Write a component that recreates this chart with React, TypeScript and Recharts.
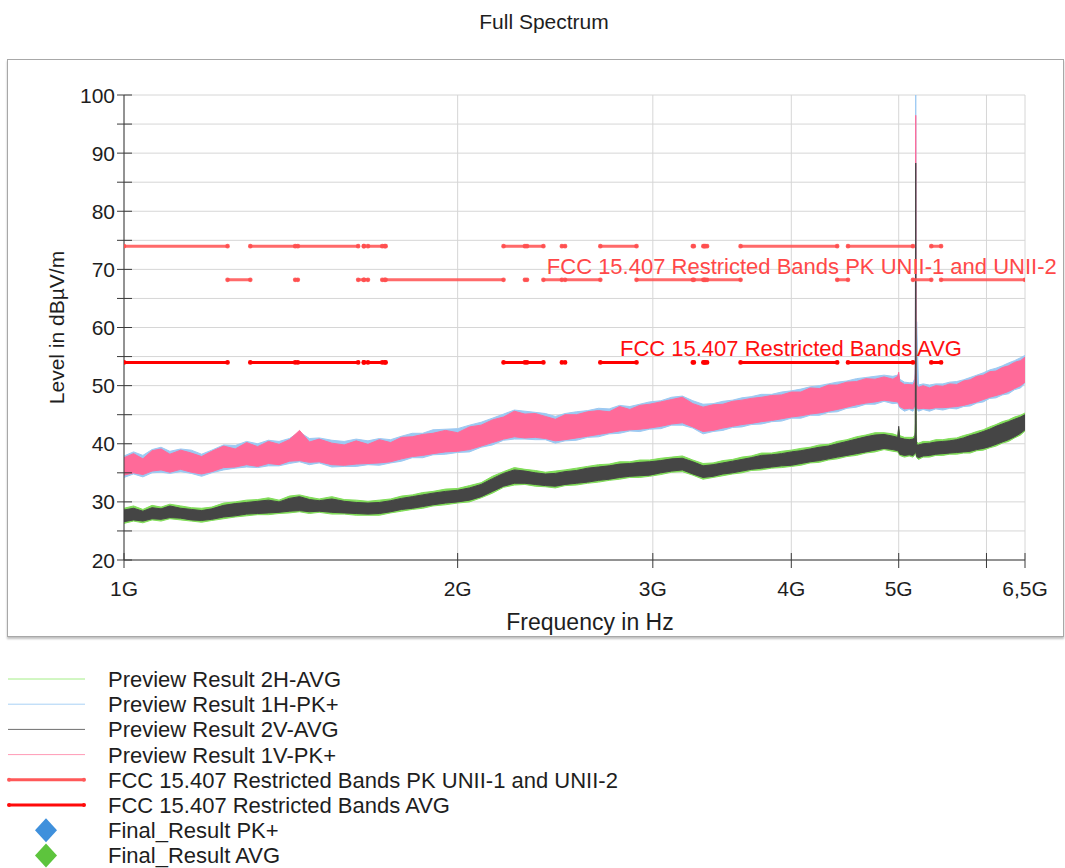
import React from 'react';
import { ComposedChart, Area, Line, XAxis, YAxis, CartesianGrid, ReferenceDot } from 'recharts';

const FONT = '"Liberation Sans", Arial, Helvetica, sans-serif';

// ---------- sweep frequencies (MHz) ----------
const freqMHz = [
  1000, 1020, 1040, 1060, 1080, 1100, 1125, 1150, 1175, 1200,
  1230, 1260, 1290, 1320, 1350, 1380, 1410, 1440, 1470, 1500,
  1540, 1580, 1620, 1660, 1700, 1740, 1780, 1820, 1860, 1900,
  1950, 2000, 2050, 2100, 2150, 2200, 2250, 2300, 2350, 2400,
  2450, 2500, 2560, 2620, 2680, 2740, 2800, 2860, 2920, 2980,
  3050, 3120, 3190, 3260, 3330, 3400, 3470, 3540, 3610, 3680,
  3760, 3840, 3920, 4000, 4080, 4160, 4240, 4320, 4400, 4490,
  4580, 4670, 4760, 4850, 4940, 4990, 5000, 5010, 5060, 5110,
  5150, 5170, 5175, 5180, 5185, 5190, 5210, 5260, 5330, 5400,
  5480, 5560, 5640, 5720, 5800, 5880, 5960, 6040, 6120, 6200,
  6280, 6360, 6440, 6500,
];

// ---------- Preview Result 1V-PK+ (pink) envelope ----------
const pk1VHi = [
  37.6, 38.3, 37.4, 38.8, 39.1, 38.2, 38.9, 38.4, 37.8, 38.7,
  39.6, 39.1, 40.2, 39.5, 40.4, 39.9, 40.7, 42.3, 40.3, 40.8,
  40.1, 39.8, 40.5, 39.9, 40.7, 40.2, 41.1, 41.2, 41.6, 41.8,
  42.3, 41.9, 42.9, 43.2, 44.1, 44.6, 45.6, 45.1, 45.2, 44.7,
  44.2, 45.0, 45.0, 45.5, 45.7, 45.5, 46.4, 45.9, 46.6, 46.8,
  47.2, 47.6, 48.0, 46.9, 46.3, 46.7, 46.8, 47.3, 47.5, 47.8,
  48.0, 48.3, 48.4, 48.9, 48.9, 49.6, 49.5, 50.1, 50.1, 50.6,
  50.7, 51.2, 51.1, 51.5, 51.1, 51.6, 52.3, 50.7, 50.2, 50.2,
  50.1, 50.7, 52.0, 96.5, 52.4, 50.1, 49.7, 50.0, 49.6, 50.0,
  49.9, 50.3, 50.2, 50.8, 51.0, 51.6, 51.8, 52.4, 52.5, 53.1,
  53.4, 54.0, 54.3, 54.9,
];
const pk1VLo = [
  34.6, 35.0, 34.7, 35.3, 35.5, 35.1, 35.6, 35.1, 34.8, 35.2,
  35.9, 36.0, 36.4, 36.1, 36.6, 36.4, 37.0, 37.1, 36.8, 36.9,
  36.4, 36.3, 36.5, 36.6, 36.7, 36.9, 37.4, 37.8, 38.0, 38.3,
  38.6, 38.7, 39.0, 39.6, 40.2, 40.8, 41.2, 41.0, 41.1, 40.9,
  40.5, 40.7, 41.0, 41.3, 41.6, 41.9, 42.2, 42.4, 42.5, 42.7,
  43.0, 43.4, 43.6, 42.9, 42.1, 42.3, 42.7, 43.0, 43.3, 43.5,
  43.8, 44.0, 44.3, 44.6, 44.8, 45.1, 45.3, 45.6, 45.9, 46.3,
  46.7, 47.0, 47.2, 47.5, 47.3, 47.2, 46.9, 46.4, 46.0, 46.1,
  46.0, 46.5, 46.8, 47.0, 46.6, 46.2, 46.0, 46.1, 46.0, 46.2,
  46.2, 46.3, 46.4, 46.6, 46.9, 47.2, 47.6, 48.0, 48.3, 48.6,
  49.0, 49.5, 50.0, 50.6,
];

// ---------- Preview Result 1H-PK+ (light blue) envelope ----------
const pk1HHi = [
  37.9, 38.6, 38.0, 39.0, 39.4, 38.7, 39.1, 38.9, 38.2, 38.9,
  39.8, 39.7, 40.4, 40.0, 40.6, 40.4, 40.9, 42.0, 40.9, 41.0,
  40.6, 40.4, 40.8, 40.5, 40.9, 40.7, 41.3, 41.8, 41.8, 42.4,
  42.5, 42.6, 43.2, 43.7, 44.4, 45.1, 45.8, 45.6, 45.4, 45.2,
  44.7, 45.2, 45.5, 45.7, 46.1, 46.0, 46.6, 46.4, 46.8, 47.2,
  47.4, 48.0, 48.2, 47.4, 46.8, 46.9, 47.3, 47.5, 47.9, 48.1,
  48.5, 48.5, 48.9, 49.1, 49.4, 49.8, 50.0, 50.3, 50.6, 50.8,
  51.2, 51.4, 51.6, 51.8, 51.6, 51.8, 52.0, 51.1, 50.6, 50.5,
  50.5, 51.2, 53.0, 100.0, 54.0, 61.0, 50.1, 50.3, 50.1, 50.3,
  50.3, 50.6, 50.7, 51.0, 51.4, 51.8, 52.2, 52.7, 53.0, 53.4,
  53.9, 54.3, 54.8, 55.2,
];
const pk1HLo = [
  34.2, 34.8, 34.3, 35.0, 35.1, 34.9, 35.2, 34.9, 34.4, 35.0,
  35.5, 35.8, 36.0, 35.9, 36.2, 36.2, 36.6, 36.9, 36.4, 36.7,
  36.0, 36.1, 36.1, 36.4, 36.3, 36.7, 37.0, 37.6, 37.6, 38.1,
  38.2, 38.5, 38.6, 39.4, 39.8, 40.6, 40.8, 40.8, 40.7, 40.7,
  40.1, 40.5, 40.6, 41.1, 41.2, 41.7, 41.8, 42.2, 42.1, 42.5,
  42.6, 43.2, 43.2, 42.7, 41.7, 42.1, 42.3, 42.8, 42.9, 43.3,
  43.4, 43.8, 43.9, 44.4, 44.4, 44.9, 44.9, 45.4, 45.5, 46.1,
  46.3, 46.8, 46.8, 47.3, 46.9, 47.0, 46.5, 46.2, 45.6, 45.9,
  45.6, 46.3, 46.4, 46.8, 46.2, 46.0, 45.6, 45.9, 45.6, 46.0,
  45.8, 46.1, 46.0, 46.4, 46.5, 47.0, 47.2, 47.8, 47.9, 48.4,
  48.6, 49.3, 49.6, 50.4,
];

// ---------- Preview Result 2V-AVG (dark grey) envelope ----------
const avg2VHi = [
  28.6, 28.9, 28.4, 29.0, 28.8, 29.3, 28.9, 28.7, 28.5, 28.8,
  29.4, 29.7, 29.9, 30.1, 30.3, 30.0, 30.6, 30.9, 30.4, 30.2,
  30.5, 30.1, 29.9, 29.8, 29.9, 30.2, 30.6, 30.9, 31.2, 31.5,
  31.8, 32.0, 32.4, 33.0, 34.0, 34.9, 35.5, 35.3, 35.0, 34.8,
  34.9, 35.2, 35.4, 35.8, 36.0, 36.2, 36.5, 36.6, 36.8, 36.9,
  37.1, 37.4, 37.5, 36.9, 36.2, 36.4, 36.7, 37.0, 37.3, 37.6,
  38.0, 38.1, 38.3, 38.6, 38.8, 39.1, 39.4, 39.6, 40.0, 40.4,
  40.8, 41.2, 41.5, 41.6, 41.3, 41.1, 43.0, 41.0, 40.8, 40.7,
  40.8, 41.0, 42.0, 88.3, 41.5, 39.8, 39.8, 40.0, 40.1, 40.3,
  40.4, 40.5, 40.7, 41.0, 41.4, 41.7, 42.1, 42.5, 43.0, 43.4,
  43.8, 44.2, 44.6, 45.0,
];
const avg2VLo = [
  26.6, 26.9, 26.7, 27.1, 27.0, 27.3, 27.2, 26.9, 26.8, 27.0,
  27.4, 27.6, 27.9, 28.0, 28.1, 28.2, 28.4, 28.5, 28.3, 28.4,
  28.2, 28.1, 28.0, 27.9, 28.0, 28.3, 28.7, 28.9, 29.2, 29.5,
  29.8, 30.0, 30.3, 30.9, 31.8, 32.7, 33.2, 33.2, 33.0, 32.8,
  32.7, 33.0, 33.2, 33.4, 33.7, 33.9, 34.2, 34.4, 34.5, 34.6,
  35.0, 35.3, 35.5, 34.8, 34.2, 34.4, 34.8, 35.0, 35.3, 35.6,
  35.8, 36.0, 36.2, 36.3, 36.6, 36.9, 37.1, 37.4, 37.7, 38.0,
  38.3, 38.6, 38.9, 39.2, 39.0, 38.8, 38.6, 38.2, 38.0, 38.1,
  38.0, 38.3, 38.6, 38.5, 38.2, 37.8, 37.6, 37.9, 38.0, 38.2,
  38.3, 38.4, 38.5, 38.6, 38.7, 39.0, 39.2, 39.5, 39.9, 40.3,
  40.7, 41.2, 41.8, 42.4,
];

// ---------- Preview Result 2H-AVG (light green) envelope ----------
const avg2HHi = [
  28.9, 29.3, 28.7, 29.4, 29.1, 29.6, 29.3, 29.0, 28.9, 29.1,
  29.8, 30.0, 30.3, 30.4, 30.7, 30.3, 31.0, 31.2, 30.8, 30.5,
  30.9, 30.4, 30.3, 30.1, 30.3, 30.5, 31.0, 31.2, 31.6, 31.8,
  32.2, 32.3, 32.8, 33.3, 34.4, 35.2, 35.9, 35.6, 35.4, 35.1,
  35.3, 35.5, 35.8, 36.1, 36.4, 36.5, 36.9, 36.9, 37.2, 37.2,
  37.5, 37.7, 37.9, 37.2, 36.6, 36.7, 37.1, 37.3, 37.7, 37.9,
  38.4, 38.4, 38.7, 38.9, 39.2, 39.4, 39.8, 39.9, 40.4, 40.7,
  41.2, 41.5, 41.9, 41.9, 41.7, 41.4, 42.6, 41.4, 41.1, 41.1,
  41.1, 41.5, 43.5, 60.0, 44.0, 40.3, 40.1, 40.4, 40.4, 40.7,
  40.7, 40.9, 41.0, 41.4, 41.7, 42.1, 42.4, 42.9, 43.3, 43.8,
  44.1, 44.6, 44.9, 45.3,
];
const avg2HLo = [
  26.3, 26.7, 26.4, 26.9, 26.7, 27.1, 26.9, 26.7, 26.5, 26.8,
  27.1, 27.4, 27.6, 27.8, 27.8, 28.0, 28.1, 28.3, 28.0, 28.2,
  27.9, 27.9, 27.7, 27.7, 27.7, 28.1, 28.4, 28.7, 28.9, 29.3,
  29.5, 29.8, 30.0, 30.7, 31.5, 32.5, 32.9, 33.0, 32.7, 32.6,
  32.4, 32.8, 32.9, 33.2, 33.4, 33.7, 33.9, 34.2, 34.2, 34.4,
  34.7, 35.1, 35.2, 34.6, 33.9, 34.2, 34.5, 34.8, 35.0, 35.4,
  35.5, 35.8, 35.9, 36.1, 36.3, 36.7, 36.8, 37.2, 37.4, 37.8,
  38.0, 38.4, 38.6, 39.0, 38.7, 38.6, 38.3, 38.0, 37.7, 37.9,
  37.7, 38.1, 38.3, 38.3, 37.9, 37.6, 37.3, 37.7, 37.7, 38.0,
  38.0, 38.2, 38.2, 38.4, 38.4, 38.8, 38.9, 39.3, 39.6, 40.1,
  40.4, 41.0, 41.5, 42.2,
];

// ---------- limit lines ----------
const restrictedBandsMHz: [number, number][] = [
  [1000, 1240], [1300, 1427], [1435, 1626.5], [1645.5, 1646.5], [1660, 1710], [1718.8, 1722.2],
  [2200, 2300], [2310, 2390], [2483.5, 2500], [2690, 2900], [3260, 3267], [3332, 3339],
  [3345.8, 3358], [3600, 4400], [4500, 5150], [5350, 5460],
];
const otherBandsMHz: [number, number][] = [
  [1240, 1300], [1427, 1435], [1626.5, 1645.5], [1646.5, 1660], [1710, 1718.8], [1722.2, 2200],
  [2300, 2310], [2390, 2483.5], [2500, 2690], [2900, 3260], [3267, 3332], [3339, 3345.8],
  [3358, 3600], [4400, 4500], [5150, 5350], [5460, 6500],
];
const pkRestrictedLevel = 74;
const pkOtherLevel = 68.2;
const avgRestrictedLevel = 54;

const pkLabel = 'FCC 15.407 Restricted Bands PK UNII-1 and UNII-2';
const avgLabel = 'FCC 15.407 Restricted Bands AVG';
const pkLabelAt = { f: 2407, level: pkOtherLevel };
const avgLabelAt = { f: 2802, level: avgRestrictedLevel };

// ---------- axes ----------
const xTicks = [1000, 2000, 3000, 4000, 5000, 6000, 6500];
const xTickLabels: Record<number, string> = { 1000: '1G', 2000: '2G', 3000: '3G', 4000: '4G', 5000: '5G', 6000: '', 6500: '6,5G' };
const yTicks = [20, 25, 30, 35, 40, 45, 50, 55, 60, 65, 70, 75, 80, 85, 90, 95, 100];

const legendItems = [
  { name: 'Preview Result 2H-AVG', kind: 'line', color: '#a4ee86', w: 1 },
  { name: 'Preview Result 1H-PK+', kind: 'line', color: '#a9d1f5', w: 1 },
  { name: 'Preview Result 2V-AVG', kind: 'line', color: '#6e6e6e', w: 1 },
  { name: 'Preview Result 1V-PK+', kind: 'line', color: '#ff9ab6', w: 1 },
  { name: 'FCC 15.407 Restricted Bands PK UNII-1 and UNII-2', kind: 'limit', color: '#ff5858', w: 3 },
  { name: 'FCC 15.407 Restricted Bands AVG', kind: 'limit', color: '#ff0a0a', w: 3 },
  { name: 'Final_Result PK+', kind: 'diamond', color: '#3f90dc', w: 0 },
  { name: 'Final_Result AVG', kind: 'diamond', color: '#5dc43d', w: 0 },
];

const data = freqMHz.map((f, i) => ({
  f,
  h2avg: [avg2HLo[i], avg2HHi[i]],
  h1pk: [pk1HLo[i], pk1HHi[i]],
  v1pk: [pk1VLo[i], pk1VHi[i]],
  v2avg: [avg2VLo[i], avg2VHi[i]],
}));

const toSegments = (bands: [number, number][], level: number) =>
  bands.flatMap(([a, b]) => [{ f: a, v: level }, { f: b, v: level }, { f: b, v: null as number | null }]);

const pkLimitData = [...toSegments(restrictedBandsMHz, pkRestrictedLevel), ...toSegments(otherBandsMHz, pkOtherLevel)];
const avgLimitData = toSegments(restrictedBandsMHz, avgRestrictedLevel);

const PK_COLOR = '#ff5050';
const AVG_COLOR = '#ff0000';

const YTick = (props: any) => {
  const { x, y, payload } = props;
  const v = payload.value;
  return (
    <g>
      <line x1={x - 7} x2={x + 8} y1={y} y2={y} stroke="#3a3a3a" strokeWidth={1} />
      {v % 10 === 0 ? (
        <text x={x - 9} y={y + 7.5} textAnchor="end" fontSize={21} fontFamily={FONT} fill="#1e1e1e">
          {v}
        </text>
      ) : null}
    </g>
  );
};

const XTick = (props: any) => {
  const { x, y, payload } = props;
  return (
    <g>
      <line x1={x} x2={x} y1={y - 7} y2={y + 8} stroke="#3a3a3a" strokeWidth={1} />
      <text x={x} y={y + 36} textAnchor="middle" fontSize={21} fontFamily={FONT} fill="#1e1e1e">
        {xTickLabels[payload.value] ?? ''}
      </text>
    </g>
  );
};

const makeLabelShape = (text: string, color: string, dy: number) => (p: any) => (
  <text x={p.cx} y={p.cy + dy} fontSize={22} fontFamily={FONT} fill={color}>
    {text}
  </text>
);

export default function App() {
  return (
    <div style={{ position: 'absolute', left: 0, top: 0, width: 1065, height: 868, background: '#fff', fontFamily: FONT }}>
      <div
        style={{
          position: 'absolute', left: 7, top: 59, width: 1055, height: 576,
          border: '1px solid #a8a8a8', boxShadow: '0 2px 2px rgba(0,0,0,0.25)', background: '#fff',
        }}
      />
      <div style={{ position: 'absolute', left: 0, top: 0 }}>
        <ComposedChart width={1065} height={650} data={data} margin={{ top: 95, right: 40, bottom: 10, left: 44 }}>
          <CartesianGrid stroke="#d6d6d6" strokeWidth={1} />
          <XAxis
            dataKey="f" type="number" scale="log" domain={[1000, 6500]} allowDataOverflow
            ticks={xTicks} interval={0} tickSize={0} tickMargin={0} tickLine={false}
            axisLine={{ stroke: '#3a3a3a' }} tick={<XTick />} height={80}
          />
          <YAxis
            type="number" domain={[20, 100]} allowDataOverflow ticks={yTicks} interval={0}
            tickSize={0} tickMargin={0} tickLine={false} axisLine={{ stroke: '#3a3a3a' }}
            tick={<YTick />} width={80}
          />
          <Area dataKey="h1pk" type="linear" stroke="#9cc9f2" strokeWidth={1} fill="#9cc9f2" fillOpacity={1} isAnimationActive={false} dot={false} activeDot={false} />
          <Area dataKey="h2avg" type="linear" stroke="#80dc58" strokeWidth={1} fill="#80dc58" fillOpacity={1} isAnimationActive={false} dot={false} activeDot={false} />
          <Area dataKey="v1pk" type="linear" stroke="#ff6a99" strokeWidth={1} fill="#ff6a99" fillOpacity={1} isAnimationActive={false} dot={false} activeDot={false} />
          <Area dataKey="v2avg" type="linear" stroke="#454545" strokeWidth={1} fill="#454545" fillOpacity={1} isAnimationActive={false} dot={false} activeDot={false} />
          <Line
            data={pkLimitData} dataKey="v" type="linear" stroke={PK_COLOR} strokeWidth={3} strokeOpacity={0.85}
            connectNulls={false} isAnimationActive={false}
            dot={{ r: 1.6, strokeWidth: 1.5, fill: PK_COLOR, stroke: PK_COLOR }} activeDot={false}
          />
          <Line
            data={avgLimitData} dataKey="v" type="linear" stroke={AVG_COLOR} strokeWidth={3}
            connectNulls={false} isAnimationActive={false}
            dot={{ r: 1.6, strokeWidth: 1.5, fill: AVG_COLOR, stroke: AVG_COLOR }} activeDot={false}
          />
          <ReferenceDot x={pkLabelAt.f} y={pkLabelAt.level} r={1} shape={makeLabelShape(pkLabel, '#ff4848', -6)} />
          <ReferenceDot x={avgLabelAt.f} y={avgLabelAt.level} r={1} shape={makeLabelShape(avgLabel, '#ff1010', -6)} />
        </ComposedChart>
      </div>
      <svg width={1065} height={868} style={{ position: 'absolute', left: 0, top: 0, pointerEvents: 'none' }}>
        <text x={544} y={29} textAnchor="middle" fontSize={21} fontFamily={FONT} fill="#1e1e1e">Full Spectrum</text>
        <text
          x={0} y={0} transform="translate(64 327.5) rotate(-90)" textAnchor="middle"
          fontSize={21} fontFamily={FONT} fill="#1e1e1e"
        >
          Level in dBµV/m
        </text>
        <text x={590} y={630} textAnchor="middle" fontSize={23} fontFamily={FONT} fill="#1e1e1e">Frequency in Hz</text>
        {legendItems.map((it, i) => {
          const cy = 679 + i * 25.2;
          return (
            <g key={it.name}>
              {it.kind === 'line' && <line x1={8} x2={85} y1={cy} y2={cy} stroke={it.color} strokeWidth={it.w} />}
              {it.kind === 'limit' && (
                <g>
                  <line x1={9} x2={84} y1={cy} y2={cy} stroke={it.color} strokeWidth={3} />
                  <circle cx={9} cy={cy} r={2} fill={it.color} />
                  <circle cx={84} cy={cy} r={2} fill={it.color} />
                </g>
              )}
              {it.kind === 'diamond' && (
                <polygon points={`46,${cy - 12} 57,${cy} 46,${cy + 12} 35,${cy}`} fill={it.color} />
              )}
              <text x={108} y={cy + 8} fontSize={22} fontFamily={FONT} fill="#1e1e1e">{it.name}</text>
            </g>
          );
        })}
      </svg>
    </div>
  );
}
